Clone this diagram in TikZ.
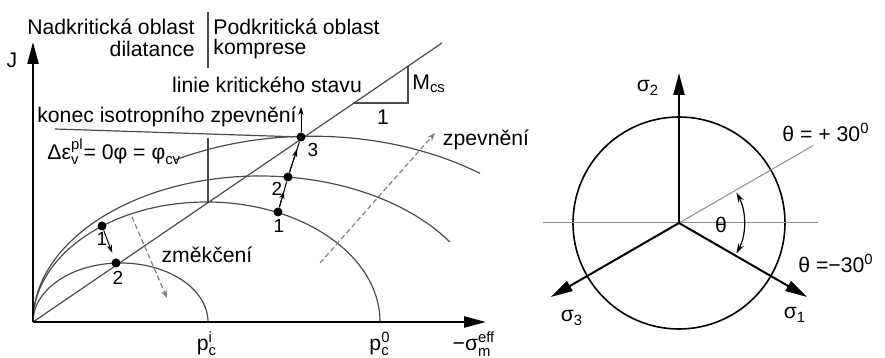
\documentclass[tikz,border=0pt]{standalone}
\usepackage{amsmath}
\usepackage{fontspec}
\setmainfont{Liberation Sans}
\usetikzlibrary{arrows.meta,calc}

\begin{document}
\begin{tikzpicture}[x=0.5pt,y=0.5pt,>=Stealth,
 every node/.style={font=\fontsize{10.6}{12}\selectfont,inner sep=1pt},
 num/.style={font=\fontsize{9.5}{11}\selectfont},
 axis/.style={line width=1.1pt,-{Triangle[length=11pt,width=5.5pt]}},
 sigax/.style={line width=1pt,-{Triangle[length=11pt,width=5.5pt]}},
 curve/.style={draw=black!70,line width=0.6pt},
 thinln/.style={draw=black!45,line width=0.5pt},
 dashln/.style={draw=black!50,line width=0.6pt,dash pattern=on 2.5pt off 1.5pt,-{Stealth[length=4pt,width=3pt]}},
 path/.style={line width=0.5pt,-{Stealth[length=4pt,width=2.6pt]}},
 dot/.style={circle,fill=black,inner sep=0pt,minimum size=4.5pt}]
\useasboundingbox (0,0) rectangle (885,358);
% J - p diagram
\coordinate (O) at (33,36);
\coordinate (Jtip) at (33,316);
\coordinate (Xtip) at (486,36);
\coordinate (cslend) at (442,315);
\coordinate (cv) at (175,198);
\coordinate (vtop) at (208,220);
\coordinate (vbot) at (208,156);
\coordinate (septop) at (208,346);
\coordinate (sepbot) at (208,290);
\coordinate (tri1) at (353,255);
\coordinate (tri2) at (408,292);
\coordinate (kl) at (55,229);
\coordinate (R3up) at (301,251);
\draw[curve] (O) arc[start angle=180,end angle=0,x radius=87.5,y radius=59];
\draw[curve] (O) arc[start angle=180,end angle=0,x radius=173.5,y radius=120];
\draw[curve] (O) arc[start angle=180,end angle=33.2,x radius=227,y radius=146];
\draw[curve] (cv) arc[start angle=119.3,end angle=53.1,x radius=280,y radius=186];
\draw[curve] (O) -- (cslend);
\draw[curve] (tri1) -| (tri2);
\draw[curve] (vtop) -- (vbot);
\draw[curve] (septop) -- (sepbot);
\draw[axis] (O) -- (Jtip);
\draw[axis] (O) -- (Xtip);
\node (J) at (12,298) {J};
\node (pci) at (207,14) {$\text{p}_{\text{c}}^{\text{i}}$};
\node (pc0) at (380,14) {$\text{p}_{\text{c}}^{\text{0}}$};
\node (sigm) at (474,14) {$\text{−σ}_{\text{m}}^{\text{eff}}$};
\node[anchor=east] (nad) at (197,331) {Nadkritická oblast};
\node[anchor=east] (dil) at (197,309) {dilatance};
\node[anchor=west] (pod) at (211,331) {Podkritická oblast};
\node[anchor=west] (kom) at (211,309) {komprese};
\node (csl) at (267,273) {linie kritického stavu};
\node[anchor=west] (mcs) at (410,274) {M\textsubscript{cs}};
\node (one) at (383,241) {1};
\node (konec) at (167,241) {konec isotropního zpevnění};
\node[anchor=west] (dil0) at (45,206) {$\text{Δε}_{\text{v}}^{\text{pl}}\text{= 0φ = φ}_{\text{cv}}$};
\node (zpev) at (486,218) {zpevnění};
\node (zmek) at (207,103) {změkčení};
\draw[curve] (kl) -- (R3up |- 0,221);
% stress states
\node[dot] (L1) at (102,132) {};
\node[dot] (L2) at (116,95) {};
\node[dot] (R1) at (278,146) {};
\node[dot] (R2) at (288,181) {};
\node[dot] (R3) at (301,221) {};
\node[num] at (102,119) {1};
\node[num] at (118,80) {2};
\node[num] at (279,132) {1};
\node[num] at (277,169) {2};
\node[num] at (313,208) {3};
\draw[path,shorten >=3pt] (L1) -- (L2);
\draw[line width=0.5pt] (R1) -- (R2);
\draw[path] (R1) -- ($(R1)!.6!(R2)$);
\draw[line width=0.5pt] (R2) -- (R3);
\draw[path] (R2) -- ($(R2)!.7!(R3)$);
\draw[path] (R3) -- (R3up);
\coordinate (zm1) at (132,141);
\coordinate (zm2) at (167,60);
\coordinate (zp1) at (320,95);
\coordinate (zp2) at (435,225);
\draw[dashln] (zm1) -- (zm2);
\draw[dashln] (zp1) -- (zp2);
% deviatoric plane
\coordinate (C) at (679,135);
\coordinate (hl) at (543,135);
\coordinate (hr) at (818,135);
\draw[line width=0.8pt] (C) circle[radius=106];
\draw[thinln] (hl) -- (hr);
\draw[thinln] (C) -- ++(30:155) coordinate (tp);
\draw[sigax] (C) -- ++(90:150) coordinate (s2);
\draw[sigax] (C) -- ++(-30:148) coordinate (s1);
\draw[sigax] (C) -- ++(210:148) coordinate (s3);
\draw[line width=0.6pt,{Stealth[length=5pt,width=3pt]}-{Stealth[length=5pt,width=3pt]}] ($(C)+(-28:65)$) arc[start angle=-28,end angle=28,radius=65];
\node (th) at (721,133) {θ};
\node (sig2) at (648,270) {σ\textsubscript{2}};
\node (sig1) at (795,43) {σ\textsubscript{1}};
\node (sig3) at (572,40) {σ\textsubscript{3}};
\node (thp) at (826,226) {θ = + 30\textsuperscript{0}};
\node (thm) at (836,95) {θ =−30\textsuperscript{0}};
\end{tikzpicture}
\end{document}
